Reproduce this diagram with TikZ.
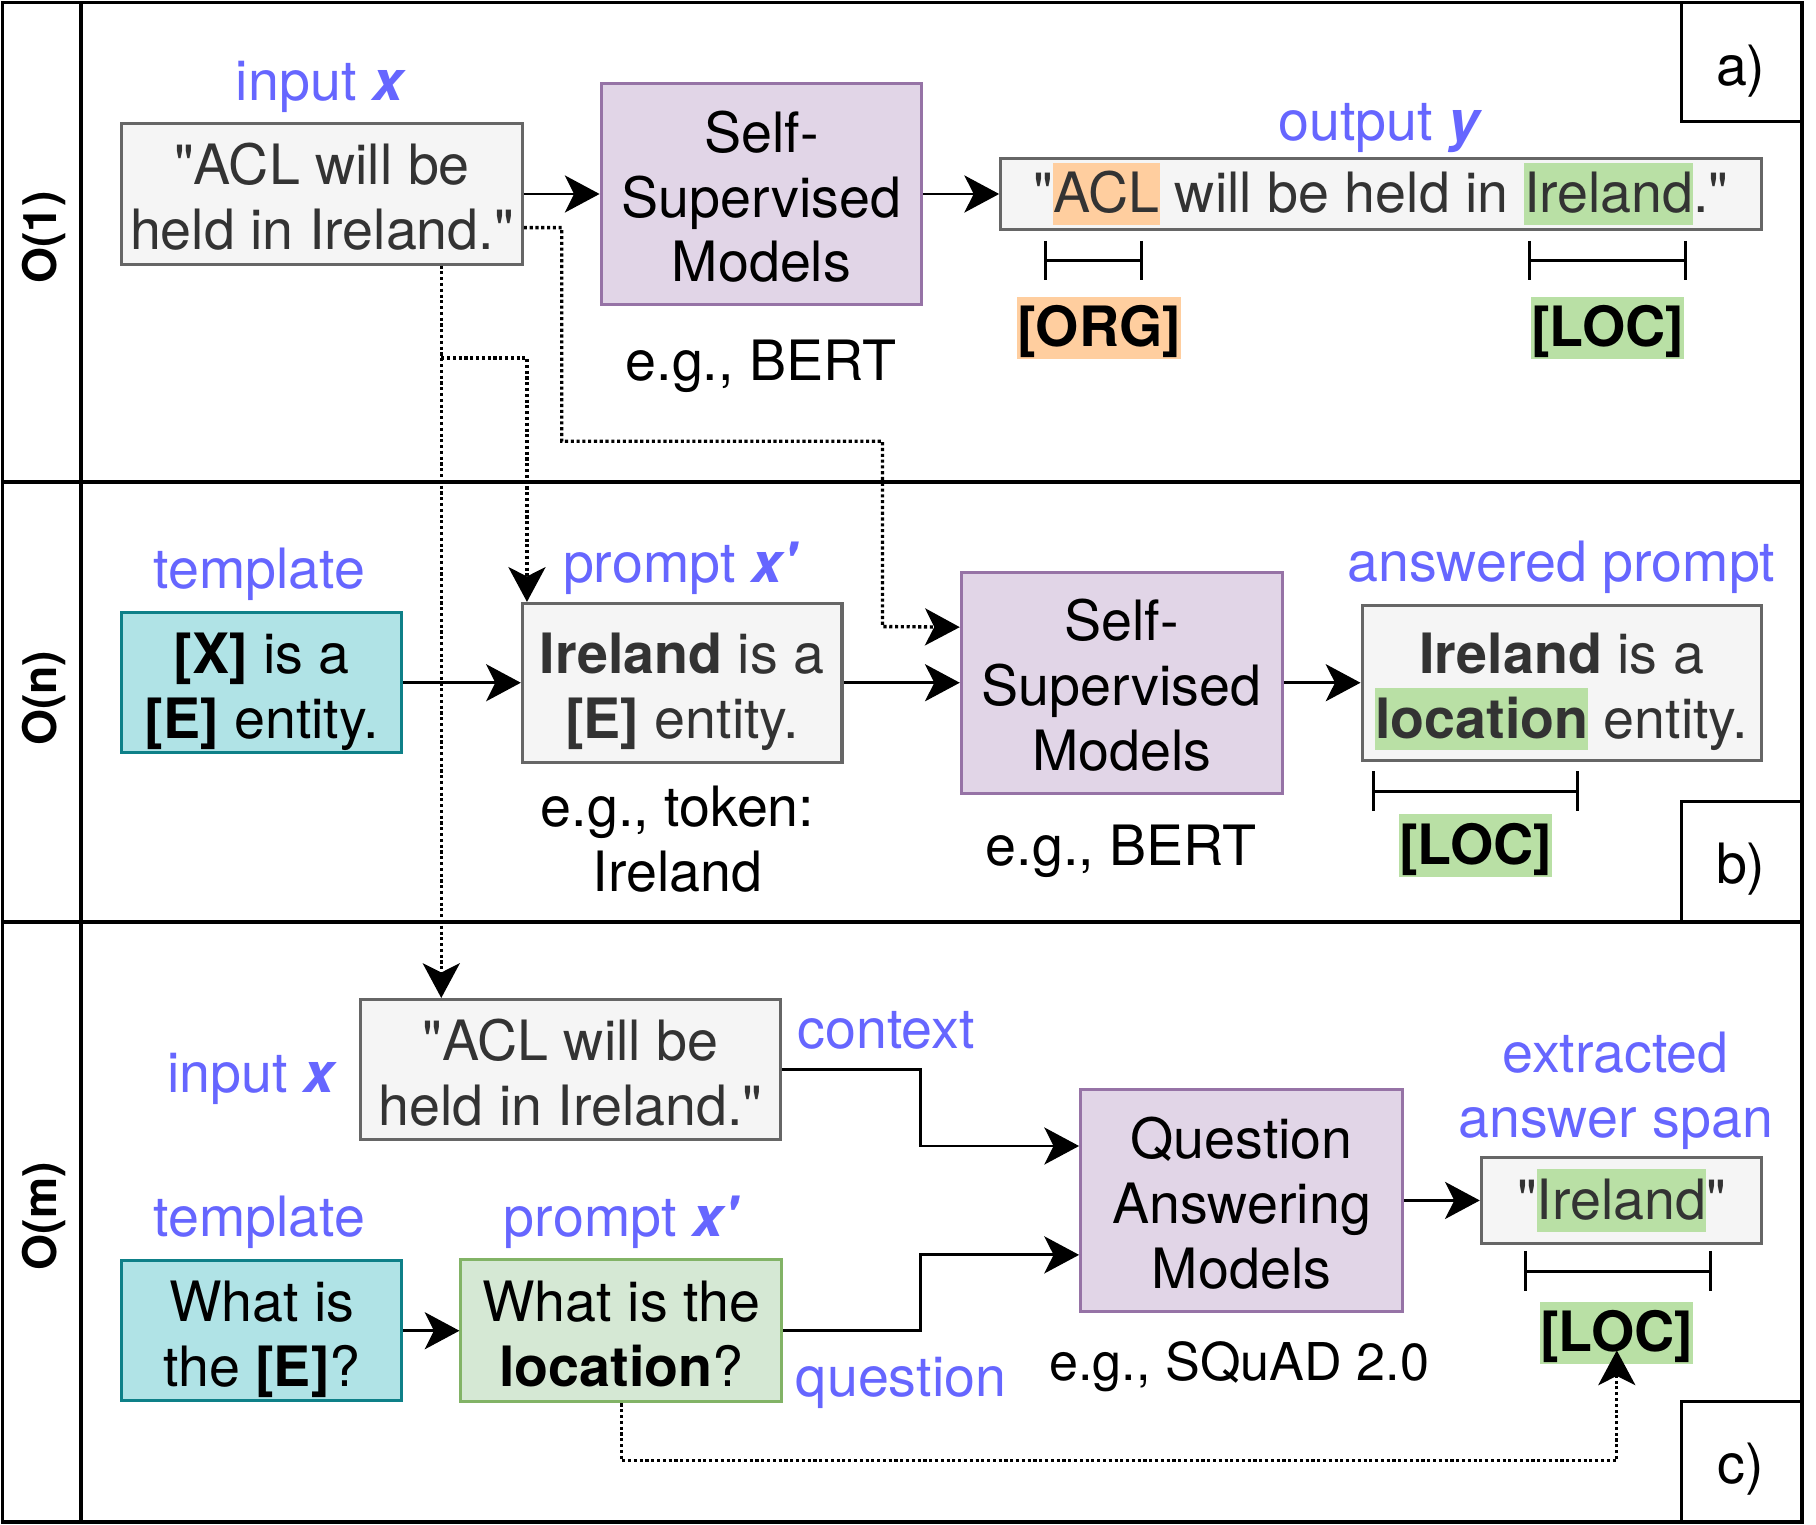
\documentclass[tikz,border=0pt]{standalone}
\usepackage{fontspec}
\setmainfont{TeX Gyre Heros}[Ligatures=TeXOff]
\usetikzlibrary{arrows.meta,calc}
\definecolor{labblue}{HTML}{6666FF}
\definecolor{gstroke}{HTML}{666666}
\definecolor{gfill}{HTML}{F5F5F5}
\definecolor{gtext}{HTML}{333333}
\definecolor{pstroke}{HTML}{9673A6}
\definecolor{pfill}{HTML}{E1D5E7}
\definecolor{tstroke}{HTML}{0E8088}
\definecolor{tfill}{HTML}{B0E3E6}
\definecolor{grstroke}{HTML}{82B366}
\definecolor{grfill}{HTML}{D5E8D4}
\definecolor{hlorange}{HTML}{FFCE9F}
\definecolor{hlgreen}{HTML}{B9E0A5}
\newcommand{\hlt}[2]{{\setlength{\fboxsep}{0pt}\colorbox{#1}{\vrule height 0.9em depth 0.22em width 0pt\relax #2}}}
\newcommand{\bix}[1]{\textbf{\textit{#1}}}
% struts: box text first/last line, label first/last line
\newcommand{\bfl}{\vrule height 1.05em depth 0pt width 0pt\relax}
\newcommand{\bll}{\vrule height 0pt depth 0.22em width 0pt\relax}
\newcommand{\lfl}{\vrule height 0.9em depth 0pt width 0pt\relax}
\newcommand{\lll}{\vrule height 0pt depth 0.21em width 0pt\relax}
\tikzset{
  base/.style={font=\fontsize{48}{56}\selectfont, align=center, inner sep=0pt},
  gbox/.style={base, draw=gstroke, fill=gfill, text=gtext, line width=2.6pt},
  pbox/.style={base, draw=pstroke, fill=pfill, line width=2.6pt},
  tbox/.style={base, draw=tstroke, fill=tfill, line width=2.6pt},
  grbox/.style={base, draw=grstroke, fill=grfill, line width=2.6pt},
  blab/.style={base, text=labblue},
  klab/.style={base},
  olab/.style={font=\fontsize{40}{48}\selectfont\bfseries, rotate=90, inner sep=0pt},
  frame/.style={line width=3pt},
  brk/.style={line width=2.6pt},
  tip/.style={-{Stealth[length=30pt,width=32pt,inset=8pt]}},
  arr/.style={line width=2.5pt, tip},
  dotarr/.style={line width=2.9pt, dash pattern=on 2.7pt off 2.3pt, tip},
}
\begin{document}
\begin{tikzpicture}[x=1pt,y=-1pt]
\useasboundingbox (0,0) rectangle (1568,1316);
% frame
\draw[frame] (2,2) rectangle (1556,1314);
\draw[frame] (70,2) -- (70,1314);
\draw[frame] (2,416) -- (1556,416);
\draw[frame] (2,796) -- (1556,796);
\draw[frame] (1452,2) rectangle (1556,105);
\draw[frame] (1452,692) rectangle (1556,796);
\draw[frame] (1452,1210) rectangle (1556,1314);
\node[base] (la) at (1503,57) {\lfl a)\lll};
\node[base] (lb) at (1503,746) {\lfl b)\lll};
\node[base] (lc) at (1503,1264) {\lfl c)\lll};
\node[olab] (o1) at (38,205) {O(1)};
\node[olab] (on) at (38,603) {O(n)};
\node[olab] (om) at (38,1050) {O(m)};

% ---------- a)
\node[blab] (inAl) at (277,70) {\lfl input \bix{x}\lll};
\node[gbox, minimum width=346pt, minimum height=121pt] (inA) at (278,167.5) {\bfl"ACL will be\\held in Ireland."\bll};
\node[pbox, minimum width=277pt, minimum height=191pt] (ssmA) at (657.5,167.5) {\bfl Self-\\Supervised\\Models\bll};
\node[klab] (egA) at (657,312) {\lfl e.g., BERT\lll};
\node[blab] (outAl) at (1192,105) {\lfl output \bix{y}\lll};
\node[gbox, minimum width=657pt, minimum height=61pt] (outA) at (1192.5,167.5) {"\hlt{hlorange}{ACL} will be held in \hlt{hlgreen}{Ireland}."};
\draw[brk] (903,208) -- (903,242) (986,208) -- (986,242) (903,225) -- (986,225);
\draw[brk] (1321,208) -- (1321,242) (1455,208) -- (1455,242) (1321,225) -- (1455,225);
\node[base, font=\fontsize{48}{56}\selectfont\bfseries] (org) at (949,283) {\hlt{hlorange}{[ORG]}};
\node[base, font=\fontsize{48}{56}\selectfont\bfseries] (locA) at (1388,283) {\hlt{hlgreen}{[LOC]}};
\draw[arr] (inA.east) -- (ssmA.west);
\draw[arr] (ssmA.east) -- (outA.west);

% ---------- b)
\node[blab] (tplBl) at (224,492) {\lfl template\lll};
\node[tbox, minimum width=242pt, minimum height=121pt] (tplB) at (226,589.5) {\bfl\textbf{[X]} is a\\\textbf{[E]} entity.\bll};
\node[blab] (prBl) at (588,487) {\lfl prompt \bix{x'}\lll};
\node[gbox, minimum width=276pt, minimum height=137pt] (prB) at (589,589.5) {\bfl\textbf{Ireland} is a\\\textbf{[E]} entity.\bll};
\node[klab] (egB) at (585,725) {\lfl e.g., token:\\Ireland\lll};
\node[pbox, minimum width=277pt, minimum height=191pt] (ssmB) at (968.5,589.5) {\bfl Self-\\Supervised\\Models\bll};
\node[klab] (egB2) at (968,731) {\lfl e.g., BERT\lll};
\node[blab] (ansl) at (1348,486) {\lfl answered prompt\lll};
\node[gbox, minimum width=345pt, minimum height=134pt] (ans) at (1348.5,589.5) {\bfl\textbf{Ireland} is a\\\hlt{hlgreen}{\textbf{location}} entity.\bll};
\draw[brk] (1186,666) -- (1186,700) (1362,666) -- (1362,700) (1186,683) -- (1362,683);
\node[base, font=\fontsize{48}{56}\selectfont\bfseries] (locB) at (1274,730) {\hlt{hlgreen}{[LOC]}};
\draw[arr] (tplB.east) -- (prB.west);
\draw[arr] (prB.east) -- (ssmB.west);
\draw[arr] (ssmB.east) -- (ans.west);

% ---------- c)
\node[blab] (inCl) at (218,927) {\lfl input \bix{x}\lll};
\node[gbox, minimum width=363pt, minimum height=121pt] (inC) at (492.5,923.5) {\bfl"ACL will be\\held in Ireland."\bll};
\node[blab] (ctxl) at (765,889) {\lfl context\lll};
\node[blab] (tplCl) at (224,1051) {\lfl template\lll};
\node[tbox, minimum width=242pt, minimum height=121pt] (tplC) at (226,1149) {\bfl What is\\the \textbf{[E]}?\bll};
\node[blab] (prCl) at (537,1051) {\lfl prompt \bix{x'}\lll};
\node[grbox, minimum width=277pt, minimum height=123pt] (prC) at (536.5,1149) {\bfl What is the\\\textbf{location}?\bll};
\node[blab] (ql) at (778,1189) {\lfl question\lll};
\node[pbox, minimum width=278pt, minimum height=191pt] (qa) at (1072,1036.5) {\bfl Question\\Answering\\Models\bll};
\node[klab, font=\fontsize{45}{54}\selectfont] (egC) at (1070,1177) {\lfl e.g., SQuAD 2.0\lll};
\node[blab] (extl) at (1395,938) {\lfl extracted\\answer span\lll};
\node[gbox, minimum width=242pt, minimum height=75pt] (ext) at (1400,1036.5) {"\hlt{hlgreen}{Ireland}"};
\draw[brk] (1317,1080) -- (1317,1115) (1477,1080) -- (1477,1115) (1317,1098) -- (1477,1098);
\node[base, font=\fontsize{48}{56}\selectfont\bfseries] (locC) at (1396,1151) {\hlt{hlgreen}{[LOC]}};
\draw[arr] (tplC.east) -- (prC.west);
\draw[arr] (inC.east) -| ([xshift=-137pt,yshift=47pt]qa.west) -- ([yshift=47pt]qa.west);
\draw[arr] (prC.east) -| ([xshift=-137pt,yshift=-47pt]qa.west) -- ([yshift=-47pt]qa.west);
\draw[arr] (qa.east) -- (ext.west);

% ---------- dotted connectors
\coordinate (br) at (381,309);
\draw[dotarr] ([yshift=-29pt]inA.east) -| (485,381) -| (762,541) -- ([yshift=48pt]ssmB.west);
\draw[dotarr] ([xshift=103pt]inA.south) -- ([xshift=-111.5pt]inC.north);
\draw[dotarr] (br) -| ([xshift=-134pt]prB.north);
\draw[dotarr] (prC.south) |- (1396,1261) -- ([yshift=-15pt]locC.center);
\end{tikzpicture}
\end{document}
